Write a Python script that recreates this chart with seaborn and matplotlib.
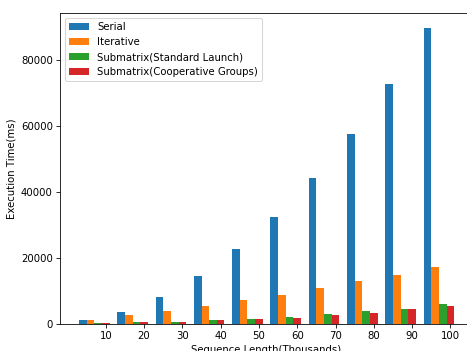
import matplotlib
matplotlib.use("Agg")
import matplotlib.pyplot as plt
import numpy as np
import pandas as pd
import seaborn as sns

# Sequence length in thousands
lengths = [10, 20, 30, 40, 50, 60, 70, 80, 90, 100]

# Execution times in milliseconds
serial = [1100, 3700, 8150, 14500, 22750, 32500, 44300, 57600, 72750, 89850]
iterative = [1300, 2800, 4000, 5500, 7250, 8850, 10900, 13100, 14900, 17200]
sub_standard = [300, 500, 700, 1100, 1600, 2200, 3000, 3800, 4700, 6000]
sub_coop = [300, 500, 700, 1100, 1600, 1900, 2600, 3400, 4500, 5500]

methods = [
    "Serial",
    "Iterative",
    "Submatrix(Standard Launch)",
    "Submatrix(Cooperative Groups)",
]
colors = ["#1f77b4", "#ff7f0e", "#2ca02c", "#d62728"]

frames = []
for name, vals in zip(methods, [serial, iterative, sub_standard, sub_coop]):
    frames.append(pd.DataFrame({"length": lengths, "time": vals, "method": name}))
df = pd.concat(frames, ignore_index=True)

DPI = 467 / 6.4
fig = plt.figure(figsize=(6.4, 351 / DPI), dpi=DPI)
ax = fig.add_axes([60 / 467, 27 / 351, 413 / 467, 311 / 351])

sns.barplot(
    data=df, x="length", y="time", hue="method", hue_order=methods,
    palette=colors, saturation=1, width=0.8, errorbar=None, ax=ax,
)

n = len(lengths)
ax.set_xticks(np.arange(n) + 0.3)
ax.set_xticklabels([str(v) for v in lengths])
ax.set_xlim(-0.896, n - 0.6 + 0.49)
ax.set_ylim(0, max(serial) * 1.05)

ax.set_xlabel("Sequence Length(Thousands)")
ax.set_ylabel("Execution Time(ms)")
ax.legend(loc="upper left", title=None)

fig.savefig("out.png", dpi=DPI)
